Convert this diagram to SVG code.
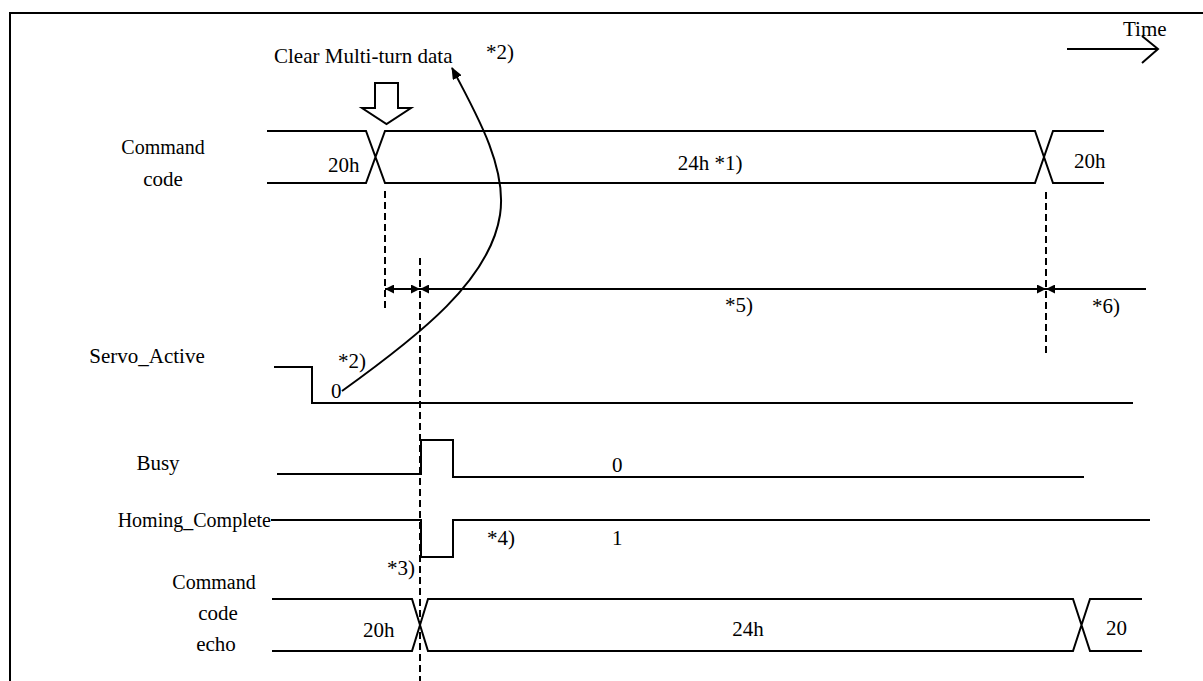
<svg xmlns="http://www.w3.org/2000/svg" width="1203" height="681" viewBox="0 0 1203 681">
<style>
text{font-family:"Liberation Serif","Times New Roman",serif;font-size:21px;fill:#000}
.sm{font-size:20px}
.s{fill:none;stroke:#000;stroke-width:2}
.d{fill:none;stroke:#000;stroke-width:2;stroke-dasharray:7 4}
.m{text-anchor:middle}
.e{text-anchor:end}
</style>
<defs>
<marker id="ah" viewBox="0 0 10 10" refX="10" refY="5" markerWidth="10" markerHeight="9" markerUnits="userSpaceOnUse" orient="auto-start-reverse">
<path d="M0,0 L10,5 L0,10 z" fill="#000"/>
</marker>
<marker id="ac" viewBox="0 0 12 10" refX="11" refY="5" markerWidth="12" markerHeight="10" markerUnits="userSpaceOnUse" orient="auto">
<path d="M0,0 L12,5 L0,10 z" fill="#000"/>
</marker>
</defs>
<rect width="1203" height="681" fill="#fff"/>
<path class="s" d="M10,681 V13 H1203"/>
<g id="time">
<text x="1123" y="36">Time</text>
<path class="s" d="M1067,49 H1158 M1142,36 L1158,49 L1142,63"/>
</g>
<g id="clear-label">
<text x="274" y="63">Clear Multi-turn data</text>
<text x="486" y="59">*2)</text>
<path class="s" d="M375,83 H398 V108 H411 L386.5,124 L362,108 H375 Z"/>
</g>
<g id="command-code">
<text class="m sm" x="163" y="154">Command</text>
<text class="m" x="163" y="186">code</text>
<path class="s" d="M267,131 H366 L385,183 H1035 L1053,131 H1104 M267,183 H366 L385,131 H1035 L1053,183 H1104"/>
<text x="328" y="172">20h</text>
<text class="m" x="710" y="170">24h *1)</text>
<text x="1074" y="168">20h</text>
</g>
<g id="servo-active">
<text class="m" x="147" y="363">Servo_Active</text>
<path class="s" d="M274,367 H312 V403 M311,403 H1133"/>
<text x="331" y="398">0</text>
<text x="338" y="368">*2)</text>
</g>
<g id="busy">
<text class="m" x="158" y="470">Busy</text>
<path class="s" d="M277,474 H421 V440 H453 V477 H1084"/>
<text x="612" y="472">0</text>
</g>
<g id="homing-complete">
<text class="e sm" x="271" y="527">Homing_Complete</text>
<path class="s" d="M271,520 H421 V557 H453 V520 H1150"/>
<text x="487" y="545">*4)</text>
<text x="612" y="545">1</text>
<text x="387" y="575">*3)</text>
</g>
<g id="command-code-echo">
<text class="m sm" x="214" y="589">Command</text>
<text class="m" x="218" y="620">code</text>
<text class="m" x="216" y="651">echo</text>
<path class="s" d="M272,599 H412 L428,651 H1073 L1090,599 H1142 M272,651 H412 L428,599 H1073 L1090,651 H1142"/>
<text x="363" y="637">20h</text>
<text class="m" x="748" y="636">24h</text>
<text x="1106" y="635">20</text>
</g>
<g id="connectors">
<path class="d" d="M385,191 V312"/>
<path class="d" d="M420,258 V681"/>
<path class="d" d="M1046,192 V357"/>
<path class="s" d="M385,289 H420" marker-start="url(#ah)" marker-end="url(#ah)"/>
<path class="s" d="M420,289 H1046" marker-start="url(#ah)" marker-end="url(#ah)"/>
<path class="s" d="M1146,289 H1046" marker-end="url(#ah)"/>
<text x="725" y="312">*5)</text>
<text x="1092" y="313">*6)</text>
<path class="s" d="M342,391 C420,335 490,280 500,215 C507,170 480,120 452,68" marker-end="url(#ac)"/>
</g>
</svg>
